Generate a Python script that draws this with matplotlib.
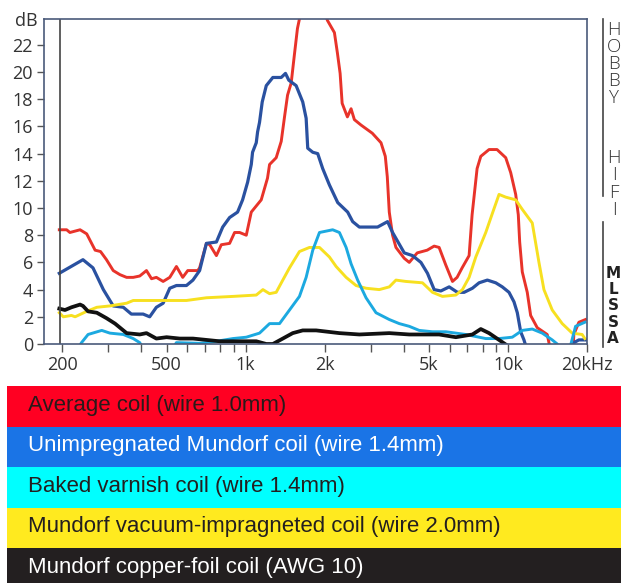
import matplotlib.pyplot as plt
from matplotlib.patches import Rectangle
from matplotlib.lines import Line2D
import numpy as np

# frequency (Hz) / level (dB)
red_f = [195, 208, 214, 234, 248, 267, 280, 295, 313, 332, 352, 373, 395, 419, 438, 457, 485, 514,
         545, 576, 602, 657, 668, 709, 730, 774, 808, 869, 908, 949, 1006, 1051, 1147, 1212, 1234,
         1308, 1367, 1407, 1445, 1492, 1535, 1576, 1628, 1750, 1950, 2050, 2180, 2238, 2292, 2333,
         2443, 2523, 2597, 2754, 3040, 3281, 3407, 3467, 3528, 3632, 3741, 4024, 4204, 4508, 4920,
         5231, 5464, 5795, 6143, 6397, 6686, 7108, 7297, 7624, 7875, 8468, 9082, 9802, 10240, 10698,
         10945, 11079, 11334, 11840, 12198, 12924, 14107, 14539, 15500, 17500, 17824, 18621, 19743]
red_db = [8.4, 8.4, 8.2, 8.4, 8.1, 6.9, 6.8, 6.2, 5.4, 5.1, 4.9, 4.9, 5.0, 5.4, 4.8, 4.9, 4.6, 4.9,
          5.7, 4.9, 5.4, 5.4, 5.6, 7.4, 7.3, 6.5, 7.3, 7.4, 8.2, 8.2, 8.0, 9.7, 10.6, 12.2, 13.2,
          13.7, 14.9, 16.7, 18.3, 19.2, 21.3, 23.2, 24.5, 26, 25, 23.8, 22.9, 21.4, 19.9, 17.7,
          16.7, 17.3, 16.5, 16.1, 15.5, 14.8, 13.8, 12.3, 9.7, 8.0, 7.1, 6.3, 6.0, 6.7, 6.9,
          7.2, 7.1, 5.8, 4.6, 4.9, 5.6, 6.5, 9.5, 12.9, 13.8, 14.3, 14.3, 13.7, 12.6, 11.0,
          9.5, 7.5, 5.3, 3.8, 2.1, 1.2, 0.7, -0.5, -2, -2, 0.7, 1.6, 1.8]

blue_f = [195, 240, 262, 287, 313, 342, 367, 407, 431, 457, 485, 514, 545, 595, 630, 668, 709, 774,
          818, 869, 932, 974, 1018, 1051, 1063, 1098, 1111, 1130, 1157, 1199, 1270, 1367, 1419, 1461,
          1558, 1651, 1701, 1725, 1803, 1883, 1967, 2086, 2244, 2449, 2559, 2713, 3184, 3476, 3632,
          4024, 4327, 4657, 4933, 5231, 5547, 5967, 6415, 6804, 7316, 7758, 8342, 8979, 9513, 10088,
          10539, 10850, 11176, 11503, 11840, 13000, 17000, 17824, 18621, 19743]
blue_db = [5.2, 6.2, 5.6, 4.0, 2.8, 2.7, 2.2, 2.2, 2.0, 2.7, 3.0, 4.1, 4.3, 4.3, 4.7, 5.4, 7.4, 7.5,
           8.6, 9.3, 9.7, 10.6, 11.9, 13.2, 14.1, 14.8, 15.6, 16.3, 17.8, 19.0, 19.6, 19.6, 19.9, 19.4,
           19.0, 17.8, 16.6, 14.4, 14.1, 14.0, 12.9, 11.7, 10.4, 9.7, 9.0, 8.6, 8.6, 9.0, 8.2,
           6.7, 6.5, 6.0, 5.2, 4.0, 3.9, 4.2, 3.8, 3.8, 4.1, 4.5, 4.7, 4.5, 4.2, 3.8,
           3.1, 2.3, 0.9, 0.3, -0.5, -2, -2, 0.1, 0.3, 0.3]

cyan_f = [230, 237, 251, 283, 304, 342, 373, 395, 410, 520, 545, 668, 774, 895, 1006, 1130, 1234,
          1347, 1470, 1604, 1701, 1803, 1912, 2147, 2278, 2416, 2523, 2673, 2877, 3140, 3528, 3851,
          4204, 4587, 5154, 5795, 6328, 6905, 7758, 8226, 9243, 10383, 11334, 12371, 13503, 14741,
          15400, 16000, 17316, 18091, 19625]
cyan_db = [-0.3, 0.1, 0.7, 1.0, 0.8, 0.7, 0.4, 0.1, -0.5, -0.5, 0.1, 0.05, 0.2, 0.4, 0.5, 0.8, 1.5,
           1.5, 2.5, 3.5, 4.9, 6.9, 8.2, 8.4, 8.2, 7.1, 5.9, 4.7, 3.4, 2.3, 1.8, 1.5,
           1.3, 1.0, 0.9, 0.9, 0.8, 0.7, 0.5, 0.4, 0.4, 0.5, 1.0, 1.1, 0.8, 0.3,
           0.0, -1, -0.1, 1.3, 1.6]

yellow_f = [195, 202, 217, 224, 248, 271, 304, 352, 373, 431, 500, 595, 709, 895, 1098, 1164, 1234,
            1308, 1386, 1470, 1604, 1751, 1912, 2086, 2213, 2416, 2636, 2877, 3232, 3528, 3741, 4083,
            4722, 5154, 5625, 6328, 6703, 7108, 7538, 8226, 8716, 9243, 9802, 10698, 11334, 12371,
            13120, 13706, 14741, 16090, 17561, 19165, 19625]
yellow_db = [2.3, 2.0, 2.1, 2.0, 2.4, 2.7, 2.8, 3.0, 3.2, 3.2, 3.2, 3.2, 3.4, 3.5, 3.6, 4.0, 3.7,
             3.8, 4.7, 5.6, 6.8, 7.1, 7.1, 6.4, 5.7, 4.9, 4.3, 4.1, 4.0, 4.2, 4.7, 4.6,
             4.5, 3.8, 3.5, 3.6, 4.0, 4.9, 6.4, 8.2, 9.6, 11.0, 10.8, 10.6, 9.9, 8.9,
             6.0, 4.0, 2.5, 1.5, 0.8, 0.7, 0.4]

black_f = [195, 205, 217, 234, 240, 251, 271, 295, 318, 352, 395, 419, 457, 500, 561, 630, 709, 796,
           895, 1006, 1098, 1199, 1270, 1386, 1512, 1651, 1857, 2278, 2713, 3528, 4204, 5464, 6328,
           7316, 7875, 8468, 9243, 10088]
black_db = [2.6, 2.5, 2.7, 2.9, 2.8, 2.4, 2.3, 1.9, 1.5, 0.8, 0.7, 0.8, 0.4, 0.5, 0.4, 0.4, 0.3, 0.2,
            0.2, 0.2, 0.2, 0.0, 0.0, 0.4, 0.8, 1.0, 1.0, 0.8, 0.7, 0.8, 0.7, 0.7, 0.5,
            0.7, 1.1, 0.8, 0.3, -0.2]

labels = ['Average coil (wire 1.0mm)',
          'Unimpregnated Mundorf coil (wire 1.4mm)',
          'Baked varnish coil (wire 1.4mm)',
          'Mundorf vacuum-impragneted coil (wire 2.0mm)',
          'Mundorf copper-foil coil (AWG 10)']
band_colors = ['#ff0022', '#1a74e6', '#00ffff', '#ffea1f', '#231f20']
text_colors = ['#2a1a1a', 'white', '#231f20', '#231f20', 'white']

xticks = [200, 500, 1000, 2000, 5000, 10000, 20000]
xticklabels = ['200', '500', '1k', '2k', '5k', '10k', '20kHz']
yticks = list(range(0, 23, 2))

W, H = 621, 583
fig = plt.figure(figsize=(W / 100, H / 100), dpi=100)
ax = fig.add_axes([44 / W, 1 - 344 / H, (587 - 44) / W, (344 - 19) / H])

ax.plot(red_f, red_db, color='#e8332a', lw=2.1)
ax.plot(blue_f, blue_db, color='#2a51a0', lw=2.3)
ax.plot(yellow_f, yellow_db, color='#f7e020', lw=2.1)
ax.plot(cyan_f, cyan_db, color='#1ca9e0', lw=2.1)
ax.plot(black_f, black_db, color='#111111', lw=2.7)

ax.set_xscale('log')
ax.set_xlim(170.5, 20000)
ax.set_ylim(0, 23.9)
ax.axvline(196, color='#444444', lw=1.2)

tick_font = dict(family='Open Sans', size=13, color='#333333')
ax.set_xticks(xticks)
ax.set_xticklabels(xticklabels, **tick_font)
ax.set_xticks([300, 400, 600, 700, 800, 900, 3000, 4000, 6000, 7000, 8000, 9000], minor=True)
ax.xaxis.set_minor_formatter(plt.NullFormatter())
ax.set_yticks(yticks)
ax.set_yticklabels([str(v) for v in yticks], **tick_font)
ax.tick_params(axis='x', which='both', direction='out', length=6, width=1, color='#555555', pad=3)
ax.tick_params(axis='y', direction='out', length=5, width=1, color='#555555', pad=3)
for s in ax.spines.values():
    s.set_color('#4a5a7a')
    s.set_linewidth(1.2)
ax.text(-0.012, 0.995, 'dB', transform=ax.transAxes, ha='right', va='center', **tick_font)

# right hand side decorations
fig.add_artist(Line2D([603 / W, 603 / W], [1 - 19 / H, 1 - 196 / H], color='#444444', lw=1.2))
fig.add_artist(Line2D([603 / W, 603 / W], [1 - 222 / H, 1 - 347 / H], color='#444444', lw=1.2))
fig.text(614 / W, 1 - 21 / H, '\n'.join('HOBBY'), ha='center', va='top', linespacing=0.93,
         family='Open Sans', size=13.5, color='#333333', fontweight='light')
fig.text(614 / W, 1 - 149 / H, '\n'.join('HIFI'), ha='center', va='top', linespacing=0.96,
         family='Open Sans', size=13.5, color='#333333', fontweight='light')
fig.text(613 / W, 1 - 266 / H, '\n'.join('MLSSA'), ha='center', va='top', linespacing=1.1,
         family='DejaVu Sans', size=11, color='#222222', fontweight='bold')

# colour key bands below the chart
band_top = 386
band_h = 40.5
for i, (lab, bc, tc) in enumerate(zip(labels, band_colors, text_colors)):
    y0 = band_top + band_h * i
    fig.add_artist(Rectangle((7 / W, 1 - (y0 + band_h) / H), 1 - 7 / W, band_h / H,
                             transform=fig.transFigure, facecolor=bc, edgecolor='none'))
    fig.text(28 / W, 1 - (y0 + band_h / 2 - 1) / H, lab, ha='left', va='center',
             family='Liberation Sans', size=16, color=tc)

fig.savefig('out.png', dpi=100)
